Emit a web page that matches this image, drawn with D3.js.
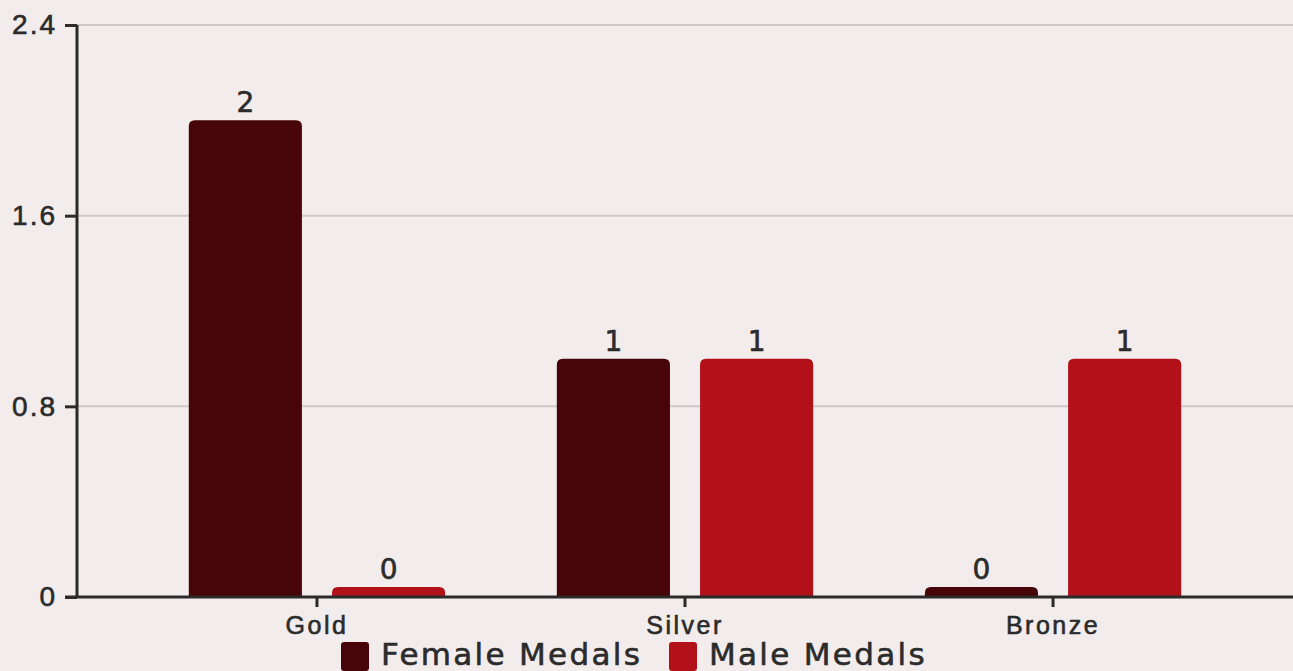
<!DOCTYPE html>
<html>
<head>
<meta charset="utf-8">
<script src="https://cdn.jsdelivr.net/npm/d3@7"></script>
<style>
  html, body { margin: 0; padding: 0; background: #f2ecec; }
  svg { display: block; font-family: "DejaVu Sans", sans-serif; }
  svg text { stroke: #2b2b2b; stroke-width: 0.6px; }
</style>
</head>
<body>
<svg id="chart"></svg>
<script>
'use strict';

/* ── Data ─────────────────────────────────────── */
const categories   = ['Gold', 'Silver', 'Bronze'];
const seriesNames  = ['Female Medals', 'Male Medals'];
const femaleValues = [2, 1, 0];
const maleValues   = [0, 1, 1];
const yTicks       = [0, 0.8, 1.6, 2.4];

const COLORS = ['#470509', '#b3111a'];
const INK    = '#2b2b2b';

/* ── Layout ───────────────────────────────────── */
const W = 1293, H = 671;
const PAD_L = 77, PAD_T = 25, PAD_B = 74;
const svg = d3.select('#chart').attr('width', W).attr('height', H);

const x = d3.scaleBand().domain(categories).range([PAD_L, W]).paddingInner(0).paddingOuter(0.152);
const xs = d3.scaleBand().domain(seriesNames).range([0, x.bandwidth()]).paddingInner(0.21).paddingOuter(0.39);
const y = d3.scaleLinear().domain([0, 2.4]).range([H - PAD_B, PAD_T]);

/* grid */
svg.append('g').selectAll('line').data(yTicks.filter(d => d > 0)).join('line')
  .attr('x1', PAD_L).attr('x2', W)
  .attr('y1', d => y(d)).attr('y2', d => y(d))
  .attr('stroke', '#cfc8c8').attr('stroke-width', 2);

/* bars */
const rows = categories.map((c, i) => ({ cat: c, vals: [femaleValues[i], maleValues[i]] }));
const MIN_H = 10, R = 6;

function topRounded(x0, y0, w, h, r) {
  r = Math.min(r, h, w / 2);
  return `M${x0},${y0 + h}V${y0 + r}Q${x0},${y0} ${x0 + r},${y0}H${x0 + w - r}Q${x0 + w},${y0} ${x0 + w},${y0 + r}V${y0 + h}Z`;
}

rows.forEach(row => {
  row.vals.forEach((v, si) => {
    const bx = x(row.cat) + xs(seriesNames[si]);
    const bw = xs.bandwidth();
    const h  = Math.max(MIN_H, y(0) - y(v));
    const by = y(0) - h;
    svg.append('path')
      .attr('d', topRounded(bx, by, bw, h, R))
      .attr('fill', COLORS[si]);
    svg.append('text')
      .attr('x', bx + bw / 2).attr('y', by - 8)
      .attr('text-anchor', 'middle')
      .attr('font-size', 28).attr('fill', INK)
      .text(v);
  });
});

/* y axis */
const yAxis = svg.append('g')
  .attr('transform', `translate(${PAD_L},0)`)
  .call(d3.axisLeft(y).tickValues(yTicks).tickFormat(d3.format('')).tickSize(12).tickPadding(8));
yAxis.select('.domain').attr('stroke', INK).attr('stroke-width', 3).attr('d', `M0,${y(2.4)}V${y(0)}`);
yAxis.selectAll('.tick line').attr('stroke', INK).attr('stroke-width', 3);
yAxis.selectAll('.tick text').attr('font-size', 28).attr('letter-spacing', 2)
  .attr('fill', INK).attr('font-family', 'inherit');

/* x axis */
const xAxis = svg.append('g')
  .attr('transform', `translate(0,${y(0)})`)
  .call(d3.axisBottom(x).tickSize(10).tickPadding(9));
xAxis.select('.domain').attr('stroke', INK).attr('stroke-width', 3).attr('d', `M${PAD_L - 12},0H${W}`);
xAxis.selectAll('.tick line').attr('stroke', INK).attr('stroke-width', 3);
xAxis.selectAll('.tick text').attr('font-size', 25).attr('letter-spacing', 2.5)
  .attr('fill', INK).attr('font-family', 'inherit');

/* legend */
const legend = svg.append('g').attr('transform', `translate(0,${H - 6})`);
const legendX = [341, 669];
seriesNames.forEach((s, i) => {
  legend.append('rect')
    .attr('x', legendX[i]).attr('y', -23).attr('width', 28).attr('height', 29).attr('rx', 3)
    .attr('fill', COLORS[i]);
  legend.append('text')
    .attr('x', legendX[i] + 40).attr('y', 0)
    .attr('font-size', 31).attr('letter-spacing', 2.3).attr('fill', INK)
    .text(s);
});
</script>
</body>
</html>
